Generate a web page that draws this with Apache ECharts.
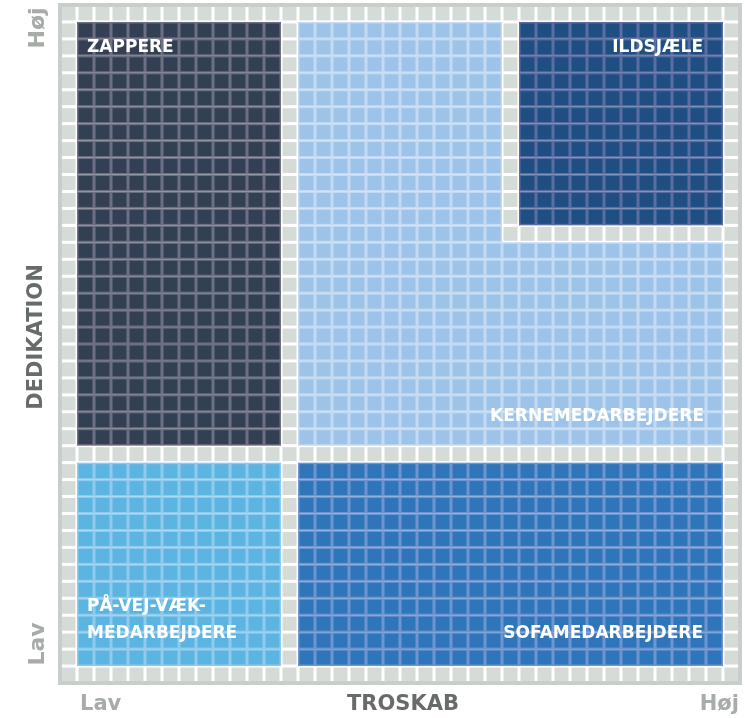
<!DOCTYPE html>
<html><head><meta charset="utf-8">
<script src="https://cdn.jsdelivr.net/npm/echarts@6/dist/echarts.min.js"></script>
<style>html,body{margin:0;padding:0;background:#fff}#c{width:745px;height:718px}</style>
</head><body><div id="c"></div>
<script>
// ---- data ----
const GRID_COLS = 40;
const GRID_ROWS = 40;
const regionNames = ['ZAPPERE', 'ILDSJÆLE', 'KERNEMEDARBEJDERE', 'PÅ-VEJ-VÆK-\nMEDARBEJDERE', 'SOFAMEDARBEJDERE'];
// rectangles of cells (inclusive) that belong to each region
const rectRegion = [0, 1, 2, 2, 3, 4];
const rectCol0   = [1, 27, 14, 14, 1, 14];
const rectCol1   = [12, 38, 25, 38, 12, 38];
const rectRow0   = [1, 1, 1, 14, 27, 27];
const rectRow1   = [25, 12, 13, 25, 38, 38];
// label anchors in cell units
const labelX = [1, 39, 39, 1, 39];
const labelY = [2.5, 2.5, 24.3, 36.3, 37.1];
const axisLow = 'Lav', axisHigh = 'Høj';
const xTitle = 'TROSKAB', yTitle = 'DEDIKATION';

// ---- styles ----
const fillColors = ['#333f52', '#1f4f82', '#9dc3e8', '#5cb4e0', '#2e76b9'];
const lineColors = ['#6d7083', '#5b6ea2', '#c3daf2', '#90cbee', '#6f95d0'];
const grayFill = '#d5dbd6', grayLine = '#ffffff';
const labelSide = ['right', 'left', 'left', 'right', 'left'];
const labelDist = [10, 20, 19, 10, 20];

const cells = [];
for (let r = 0; r < GRID_ROWS; r++) {
  for (let c = 0; c < GRID_COLS; c++) {
    let reg = -1;
    for (let k = 0; k < rectRegion.length; k++) {
      if (c >= rectCol0[k] && c <= rectCol1[k] && r >= rectRow0[k] && r <= rectRow1[k]) reg = rectRegion[k];
    }
    cells.push([c, r, reg]);
  }
}
cells.sort((a, b) => (a[2] >= 0) - (b[2] >= 0));

const chart = echarts.init(document.getElementById('c'));
const FONT = '"DejaVu Sans", sans-serif';
chart.setOption({
  animation: false,
  grid: { left: 60, top: 5, width: 680, height: 678 },
  xAxis: { type: 'value', min: 0, max: GRID_COLS, show: false },
  yAxis: { type: 'value', min: 0, max: GRID_ROWS, inverse: true, show: false },
  series: [
    {
      type: 'custom',
      data: cells,
      renderItem: function (params, api) {
        const c = api.value(0), r = api.value(1), reg = api.value(2);
        const p0 = api.coord([c, r]);
        const p1 = api.coord([c + 1, r + 1]);
        const w = p1[0] - p0[0], h = p1[1] - p0[1];
        const fill = reg >= 0 ? fillColors[reg] : grayFill;
        const line = reg >= 0 ? lineColors[reg] : grayLine;
        const g = 1.5;
        let il = g, ir = g, it = g, ib = g;
        if (reg < 0) {
          if (c === 0) il = 0;
          if (c === GRID_COLS - 1) ir = 0;
          if (r === 0) it = 0;
          if (r === GRID_ROWS - 1) ib = 0;
        }
        return {
          type: 'group',
          children: [
            { type: 'rect', shape: { x: p0[0], y: p0[1], width: w, height: h }, style: { fill: line } },
            { type: 'rect', shape: { x: p0[0] + il, y: p0[1] + it, width: w - il - ir, height: h - it - ib }, style: { fill: fill } }
          ]
        };
      }
    },
    {
      type: 'custom',
      data: [[0, 0]],
      z: 5,
      renderItem: function (params, api) {
        const p0 = api.coord([0, 0]);
        const p1 = api.coord([GRID_COLS, GRID_ROWS]);
        return { type: 'rect', shape: { x: p0[0], y: p0[1], width: p1[0] - p0[0], height: p1[1] - p0[1] },
          style: { fill: null, stroke: '#c8cec9', lineWidth: 4 } };
      }
    },
    {
      type: 'scatter',
      symbolSize: 0,
      z: 10,
      data: regionNames.map((n, i) => ({
        value: [labelX[i], labelY[i]],
        name: n,
        label: { position: labelSide[i], distance: labelDist[i], align: labelSide[i] === 'left' ? 'right' : 'left' }
      })),
      label: {
        show: true, formatter: p => p.name, color: '#ffffff', fontFamily: FONT,
        fontWeight: 'bold', fontSize: 17, lineHeight: 27, textBorderWidth: 0, opacity: 1
      },
      itemStyle: { opacity: 1 },
      silent: true
    }
  ],
  graphic: [
    { type: 'text', x: 38, y: 28, rotation: Math.PI / 2, style: { text: axisHigh, fill: '#a7aca8', font: 'bold 22px ' + FONT, textAlign: 'center', textVerticalAlign: 'middle' } },
    { type: 'text', x: 37, y: 337, rotation: Math.PI / 2, style: { text: yTitle, fill: '#676b6b', font: 'bold 21px ' + FONT, textAlign: 'center', textVerticalAlign: 'middle' } },
    { type: 'text', x: 38, y: 644, rotation: Math.PI / 2, style: { text: axisLow, fill: '#a7aca8', font: 'bold 22px ' + FONT, textAlign: 'center', textVerticalAlign: 'middle' } },
    { type: 'text', x: 80, y: 705, style: { text: axisLow, fill: '#a7aca8', font: 'bold 21px ' + FONT, textAlign: 'left', textVerticalAlign: 'middle' } },
    { type: 'text', x: 403, y: 705, style: { text: xTitle, fill: '#676b6b', font: 'bold 21px ' + FONT, textAlign: 'center', textVerticalAlign: 'middle' } },
    { type: 'text', x: 739, y: 705, style: { text: axisHigh, fill: '#a7aca8', font: 'bold 21px ' + FONT, textAlign: 'right', textVerticalAlign: 'middle' } }
  ]
});
</script></body></html>
